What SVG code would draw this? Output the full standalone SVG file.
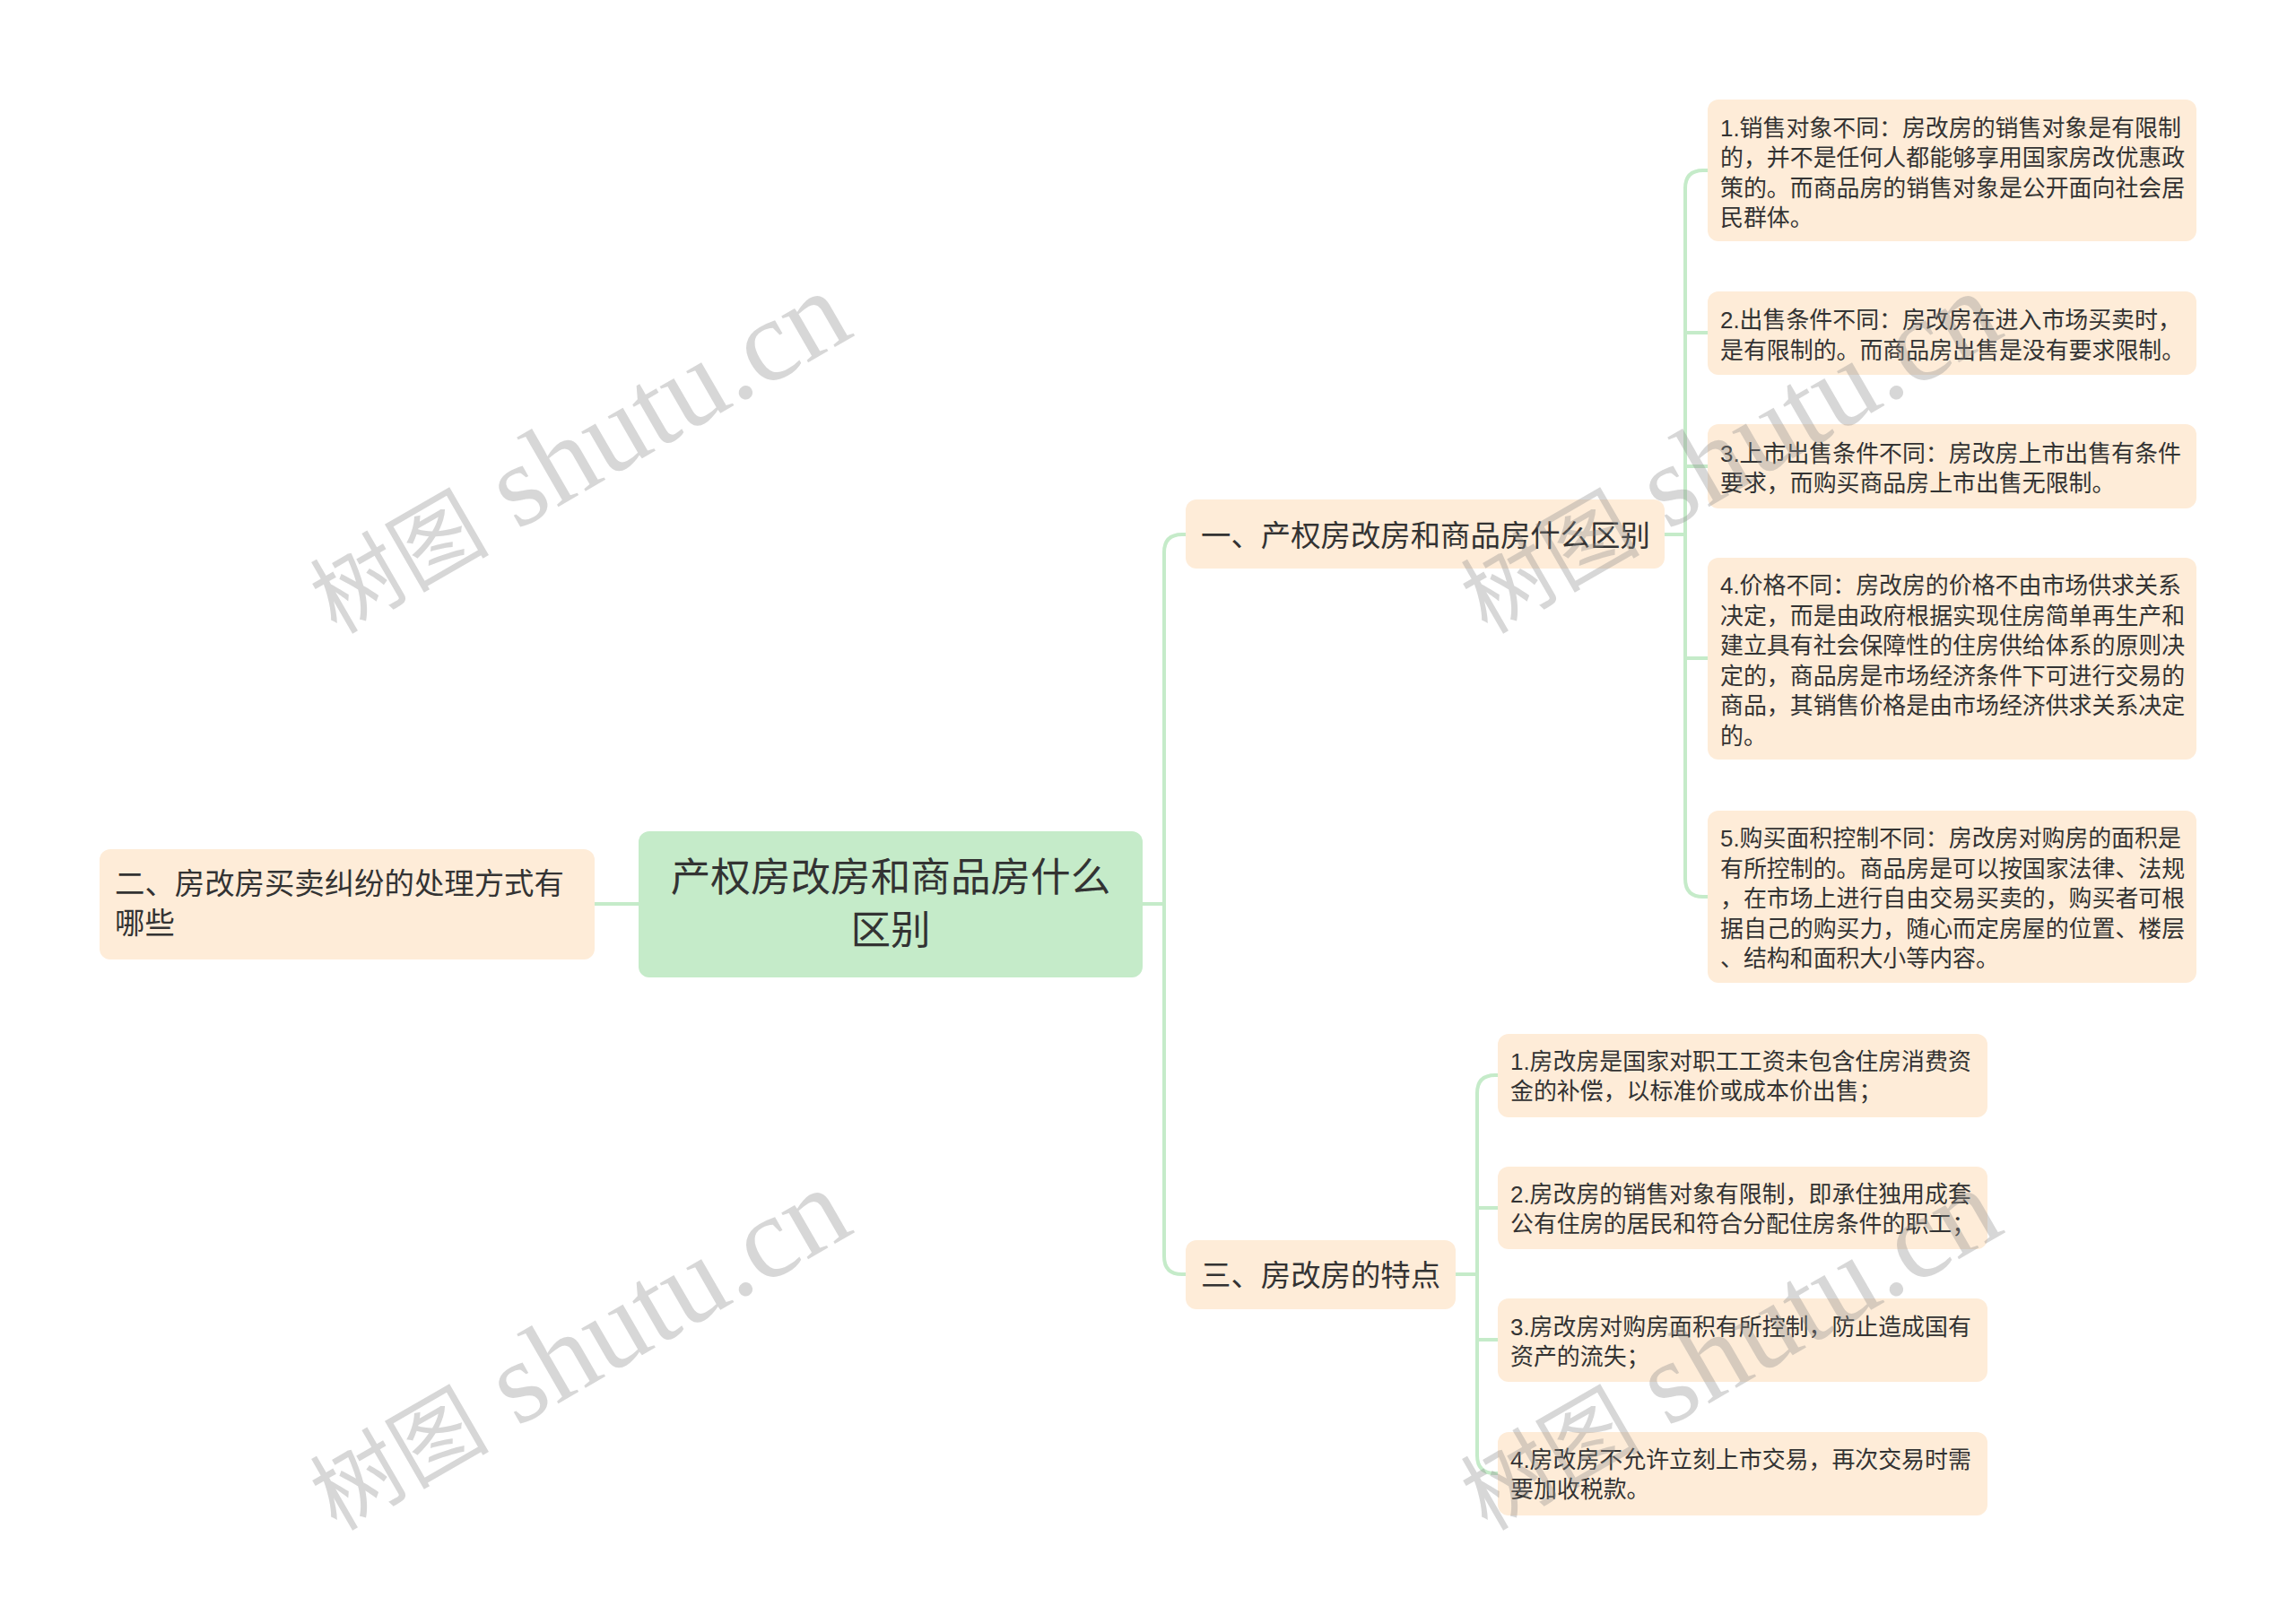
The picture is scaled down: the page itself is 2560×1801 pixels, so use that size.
<svg xmlns="http://www.w3.org/2000/svg" width="2560" height="1801" viewBox="0 0 2560 1801">
<defs><style>
text{font-family:"Liberation Sans","Noto Sans CJK SC",sans-serif;fill:#333}
.c{fill:none;stroke:#c5ebc9;stroke-width:4}
.n{fill:#feecd8}
.r{fill:#c5ebc9}
.l{font-size:25.92px}
.m{font-size:33.4px}
.t{font-size:44.6px;text-anchor:middle}
.w{font-family:"Liberation Serif","Noto Sans CJK SC",serif;font-size:130px;fill:#8c8c8c;fill-opacity:.35}
.w tspan{font-size:100px;font-weight:400}
</style></defs>
<rect width="2560" height="1801" fill="#fff"/>
<g id="connectors">
<path class="c" d="M663 1008H712"/>
<path class="c" d="M1273 1008H1298"/>
<path class="c" d="M1322 596H1318Q1298 596 1298 616V1401Q1298 1421 1318 1421H1322"/>
<path class="c" d="M1856 596H1879"/>
<path class="c" d="M1904 190H1899Q1879 190 1879 210V980Q1879 1000 1899 1000H1904"/>
<path class="c" d="M1879 371H1904"/>
<path class="c" d="M1879 520H1904"/>
<path class="c" d="M1879 734H1904"/>
<path class="c" d="M1623 1421H1647"/>
<path class="c" d="M1670 1199H1667Q1647 1199 1647 1219V1623Q1647 1643 1667 1643H1670"/>
<path class="c" d="M1647 1347H1670"/>
<path class="c" d="M1647 1494H1670"/>
</g>
<g id="root"><rect class="r" x="712" y="927" width="562" height="163" rx="12"/>
<text class="t" x="993" y="994">产权房改房和商品房什么</text><text class="t" x="993" y="1053">区别</text></g>
<g id="b2"><rect class="n" x="111" y="947" width="552" height="123" rx="12"/>
<text class="m"><tspan x="128" y="997">二、房改房买卖纠纷的处理方式有</tspan><tspan x="128" y="1041">哪些</tspan></text></g>
<g id="b1"><rect class="n" x="1322" y="557" width="534" height="77" rx="12"/>
<text class="m" x="1339" y="609">一、产权房改房和商品房什么区别</text></g>
<g id="b3"><rect class="n" x="1322" y="1383" width="301" height="77" rx="12"/>
<text class="m" x="1339" y="1434">三、房改房的特点</text></g>
<g id="a1"><rect class="n" x="1904" y="111" width="545" height="158" rx="12"/>
<text class="l"><tspan x="1918" y="151.500">1.销售对象不同：房改房的销售对象是有限制</tspan><tspan x="1918" y="185">的，并不是任何人都能够享用国家房改优惠政</tspan><tspan x="1918" y="218.500">策的。而商品房的销售对象是公开面向社会居</tspan><tspan x="1918" y="252">民群体。</tspan></text></g>
<g id="a2"><rect class="n" x="1904" y="325" width="545" height="93" rx="12"/>
<text class="l"><tspan x="1918" y="366">2.出售条件不同：房改房在进入市场买卖时，</tspan><tspan x="1918" y="400">是有限制的。而商品房出售是没有要求限制。</tspan></text></g>
<g id="a3"><rect class="n" x="1904" y="473" width="545" height="94" rx="12"/>
<text class="l"><tspan x="1918" y="514.500">3.上市出售条件不同：房改房上市出售有条件</tspan><tspan x="1918" y="548">要求，而购买商品房上市出售无限制。</tspan></text></g>
<g id="a4"><rect class="n" x="1904" y="622" width="545" height="225" rx="12"/>
<text class="l"><tspan x="1918" y="662">4.价格不同：房改房的价格不由市场供求关系</tspan><tspan x="1918" y="695.500">决定，而是由政府根据实现住房简单再生产和</tspan><tspan x="1918" y="729">建立具有社会保障性的住房供给体系的原则决</tspan><tspan x="1918" y="762.500">定的，商品房是市场经济条件下可进行交易的</tspan><tspan x="1918" y="796">商品，其销售价格是由市场经济供求关系决定</tspan><tspan x="1918" y="829.500">的。</tspan></text></g>
<g id="a5"><rect class="n" x="1904" y="904" width="545" height="192" rx="12"/>
<text class="l"><tspan x="1918" y="944">5.购买面积控制不同：房改房对购房的面积是</tspan><tspan x="1918" y="977.500">有所控制的。商品房是可以按国家法律、法规</tspan><tspan x="1918" y="1011">，在市场上进行自由交易买卖的，购买者可根</tspan><tspan x="1918" y="1044.500">据自己的购买力，随心而定房屋的位置、楼层</tspan><tspan x="1918" y="1078">、结构和面积大小等内容。</tspan></text></g>
<g id="c1"><rect class="n" x="1670" y="1153" width="546" height="93" rx="12"/>
<text class="l"><tspan x="1684" y="1192.500">1.房改房是国家对职工工资未包含住房消费资</tspan><tspan x="1684" y="1226">金的补偿，以标准价或成本价出售；</tspan></text></g>
<g id="c2"><rect class="n" x="1670" y="1301" width="546" height="92" rx="12"/>
<text class="l"><tspan x="1684" y="1340.500">2.房改房的销售对象有限制，即承住独用成套</tspan><tspan x="1684" y="1374">公有住房的居民和符合分配住房条件的职工；</tspan></text></g>
<g id="c3"><rect class="n" x="1670" y="1448" width="546" height="93" rx="12"/>
<text class="l"><tspan x="1684" y="1488.500">3.房改房对购房面积有所控制，防止造成国有</tspan><tspan x="1684" y="1522">资产的流失；</tspan></text></g>
<g id="c4"><rect class="n" x="1670" y="1597" width="546" height="93" rx="12"/>
<text class="l"><tspan x="1684" y="1636.500">4.房改房不允许立刻上市交易，再次交易时需</tspan><tspan x="1684" y="1670">要加收税款。</tspan></text></g>
<g id="watermarks">
<text class="w" transform="translate(375 708) rotate(-30)"><tspan>树图</tspan> shutu.cn</text>
<text class="w" transform="translate(1658 708) rotate(-30)"><tspan>树图</tspan> shutu.cn</text>
<text class="w" transform="translate(375 1708) rotate(-30)"><tspan>树图</tspan> shutu.cn</text>
<text class="w" transform="translate(1658 1708) rotate(-30)"><tspan>树图</tspan> shutu.cn</text>
</g>
</svg>
